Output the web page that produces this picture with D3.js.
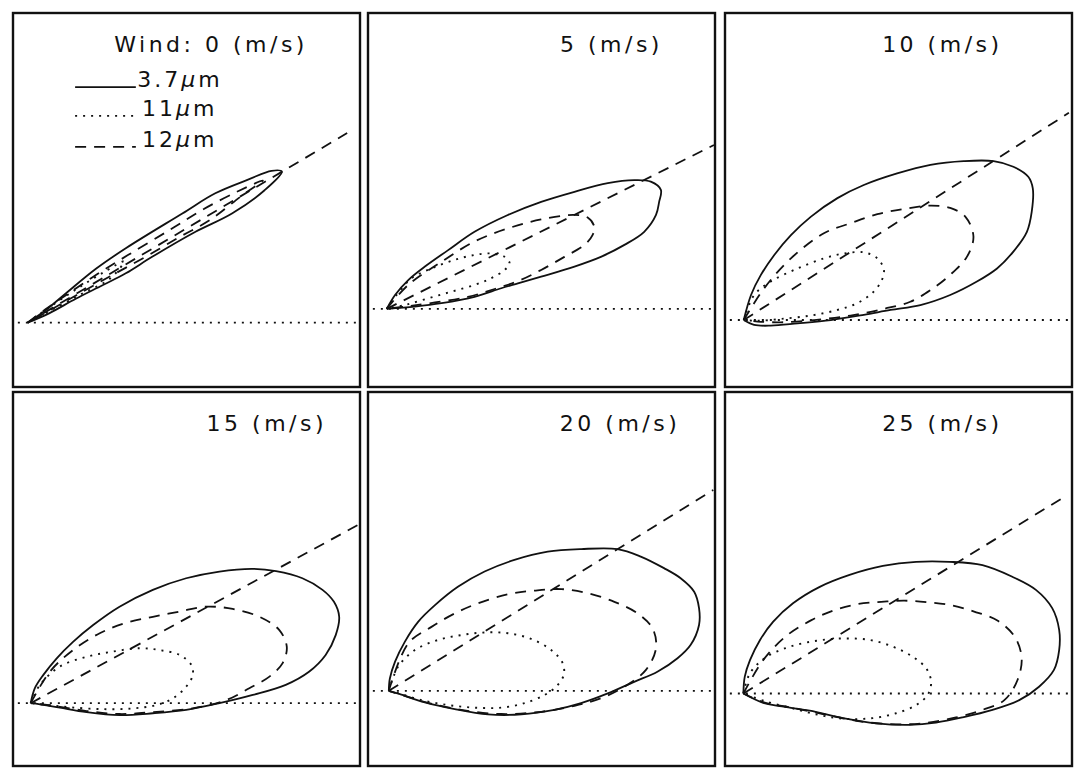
<!DOCTYPE html>
<html>
<head>
<meta charset="utf-8">
<script src="https://cdn.jsdelivr.net/npm/d3@7/dist/d3.min.js"></script>
<style>
    html, body { margin: 0; padding: 0; background: #fff; }
    svg { display: block; }
    text { font-family: 'DejaVu Sans', sans-serif; fill: #111; }
</style>
</head>
<body>
<div id="chart"></div>
<script>
// wind speed of each panel (m/s)
var windSpeeds = [ 0, 5, 10, 15, 20, 25 ];
var channels = [ '3.7', '11', '12' ];

// panel units: x 0..100 left->right, y 0..100 bottom->top
// source point of each glint pattern (also the horizon level)
var sourcePoints = [ [4.2,17.2], [5.4,20.9], [5.4,17.9], [5.1,16.8], [6.0,20.1], [5.3,19.4] ];
// far end of the straight dashed direction line
var rayEnds = [ [96.3,67.9], [99.7,64.7], [99.1,73.3], [99.7,64.6], [99.5,73.8], [97.0,71.5] ];

// 3.7um contour, one ring per panel (starts and ends at the source point)
var contour37 = [
    [[9.5,20.6],[15.2,25.0],[23.9,31.6],[32.5,37.1],[48.8,46.4],[58.3,51.8],[67.9,55.5],[74.5,57.8],[77.5,57.6],[72.5,52.6],[63.1,46.4],[52.6,41.5],[40.1,34.8],[32.5,30.4],[25.8,27.2],[18.1,23.6],[10.4,19.7]],
    [[7.8,24.6],[11.6,28.6],[16.4,32.2],[23.1,36.6],[30.7,41.5],[40.3,46.0],[49.9,49.5],[59.5,52.2],[69.1,54.5],[76.7,55.3],[81.5,54.9],[84.4,52.7],[83.9,49.5],[83.0,46.0],[79.6,41.5],[73.9,38.0],[67.1,34.8],[59.5,32.2],[49.9,29.5],[43.2,27.7],[38.4,26.4],[30.7,24.1],[21.2,22.4],[13.5,21.5]],
    [[7.5,24.6],[10.3,29.9],[14.2,35.3],[19.0,40.6],[24.7,45.5],[32.4,50.5],[40.0,54.0],[49.6,57.1],[59.2,59.4],[68.8,60.4],[77.4,60.4],[83.1,58.9],[87.4,56.2],[88.7,53.1],[88.4,46.9],[87.0,41.5],[83.1,36.2],[78.4,31.7],[72.6,28.2],[64.9,24.6],[56.3,21.9],[47.7,20.6],[40.0,19.3],[30.5,17.9],[20.9,17.0],[13.2,16.4],[8.4,16.6]],
    [[6.3,20.8],[8.7,24.3],[12.6,28.8],[17.3,33.2],[23.1,37.7],[30.7,42.6],[40.3,47.1],[49.9,50.2],[59.5,52.0],[69.1,52.7],[75.8,52.1],[83.4,50.2],[89.2,47.1],[92.5,43.9],[94.0,39.9],[93.0,35.0],[90.1,29.7],[85.3,25.2],[78.6,21.7],[69.1,19.0],[59.5,16.8],[49.9,15.0],[40.3,14.1],[30.7,13.6],[21.2,14.4],[13.5,15.6],[7.8,16.5]],
    [[6.3,23.4],[7.8,27.9],[10.6,33.2],[14.5,38.6],[19.3,43.0],[25.9,47.9],[33.6,52.0],[42.2,55.1],[51.8,57.3],[61.4,58.0],[71.9,58.0],[78.6,56.0],[85.3,52.9],[90.1,50.2],[94.0,46.6],[95.4,42.2],[95.4,37.7],[93.0,32.4],[89.2,28.8],[83.4,25.2],[76.7,22.5],[69.1,19.4],[61.4,16.8],[53.7,15.0],[44.2,13.8],[34.6,13.8],[25.0,15.2],[16.4,17.0],[9.2,19.2]],
    [[5.7,23.9],[7.2,28.3],[10.1,33.7],[13.9,38.6],[19.6,43.5],[27.3,47.9],[35.9,51.1],[45.5,53.5],[55.1,54.6],[64.7,54.6],[74.2,53.7],[82.8,50.6],[89.6,47.1],[94.3,42.2],[96.3,36.4],[96.3,31.0],[94.8,25.7],[90.5,21.2],[84.8,17.6],[77.1,15.0],[68.5,13.0],[60.8,11.6],[53.2,11.0],[43.6,11.4],[34.0,12.8],[24.4,14.8],[15.8,16.0],[11.0,16.9]]
];

// 11um contour
var contour11 = [
    [[10,21],[18,26.0],[26,30.6],[32,33.6],[28,29],[20,25],[12,21]],
    [[7.8,24.1],[12.6,29.1],[18.3,31.7],[25.0,34.0],[30.7,35.3],[35.5,35.7],[39.4,34.8],[40.8,33.1],[39.4,31.3],[35.5,29.1],[30.7,27.3],[24.1,25.5],[17.3,23.7],[10.6,21.9]],
    [[8.4,24.6],[13.2,28.2],[20.9,31.7],[28.5,34.4],[34.3,35.7],[40.0,36.0],[43.9,34.4],[45.8,31.3],[45.0,28.2],[42.4,25.1],[38.1,22.4],[32.4,20.6],[24.7,19.1],[16.1,18.2],[9.4,17.7]],
    [[7.8,21.7],[13.5,26.6],[21.2,29.2],[28.8,30.6],[36.5,31.5],[42.2,31.0],[48.0,29.7],[51.4,27.0],[51.8,24.3],[49.9,21.2],[46.1,18.1],[41.3,16.3],[34.6,15.4],[25.9,15.2],[16.4,15.7],[9.7,16.3]],
    [[8.7,26.6],[13.5,31.0],[20.2,33.7],[26.9,35.0],[33.6,35.7],[40.3,35.5],[47.0,34.0],[52.8,31.0],[56.1,27.5],[56.4,24.3],[54.2,21.2],[50.9,19.0],[45.1,16.8],[38.4,15.6],[30.7,15.6],[23.1,16.3],[15.4,17.6],[9.7,19.2]],
    [[7.2,24.8],[12.0,29.2],[18.7,31.9],[26.4,33.5],[34.0,34.1],[41.7,33.7],[48.4,31.9],[54.1,29.2],[58.0,26.1],[59.4,22.5],[58.4,19.0],[55.1,16.3],[49.3,14.1],[42.6,12.8],[35.0,12.6],[27.3,13.6],[19.6,15.4],[12.0,17.2]]
];

// 12um contour
var contour12 = [
    [[10,21.2],[16,25.0],[24,30.0],[33,35.2],[45,41.9],[55,47.6],[65,52.4],[72,55.2],[66,51.2],[57,44.8],[48,40.1],[38,34.7],[28,29.6],[18,24.4],[10,20.2]],
    [[11.6,27.3],[21.2,33.5],[30.7,38.9],[40.3,42.4],[49.9,44.8],[59.5,46.0],[63.3,45.3],[65.2,42.9],[64.7,40.6],[62.4,38.0],[56.6,34.8],[49.9,31.3],[43.2,28.3],[36.5,26.2],[28.8,24.1],[19.3,22.6],[11.6,21.6]],
    [[11.3,26.4],[19.0,34.4],[28.5,41.1],[36.2,43.8],[43.9,46.2],[51.5,47.6],[59.2,48.5],[64.9,47.9],[69.3,45.5],[71.6,40.2],[69.7,34.8],[64.9,30.0],[59.2,25.9],[53.4,22.8],[45.8,20.9],[36.2,19.1],[25.7,17.9],[16.1,17.3],[9.4,17.5]],
    [[10.6,25.2],[17.3,31.0],[25.0,35.5],[32.7,38.3],[40.3,39.9],[48.0,41.3],[55.7,42.6],[63.3,42.0],[71.0,39.9],[76.7,36.4],[78.9,31.9],[77.7,27.5],[73.9,23.9],[68.1,20.8],[61.4,17.6],[51.8,15.4],[40.3,14.4],[30.7,13.9],[21.2,14.7],[11.6,16.1]],
    [[11.6,32.8],[18.3,37.2],[25.0,40.8],[31.7,43.5],[40.3,45.9],[48.0,46.9],[55.7,47.3],[63.3,46.2],[71.0,43.9],[77.7,40.8],[82.0,36.8],[83.0,31.5],[80.1,25.7],[73.9,21.2],[67.1,18.1],[59.5,16.1],[49.9,14.5],[38.4,13.9],[26.9,15.0],[17.3,16.9],[9.7,19.0]],
    [[11.0,28.3],[17.7,34.8],[24.9,39.0],[31.6,41.7],[38.3,43.3],[45.0,43.9],[51.7,44.2],[58.4,43.8],[65.1,43.0],[71.8,41.3],[78.5,38.9],[83.6,34.4],[85.5,28.8],[84.3,23.0],[80.5,17.6],[74.2,15.0],[66.6,13.0],[57.0,11.4],[47.4,11.2],[37.8,12.1],[28.2,13.9],[18.7,15.7],[11.0,17.1]]
];

(function(){
    'use strict';

    var width = 1081,
        height = 772,
        colLeft = [ 13, 368, 725 ],
        rowTop = [ 13, 392 ],
        panelW = 347,
        panelH = 374,
        ink = '#111',
        // x (panel units) where each title ends
        titleEnd = [ 85, 85, 80, 90.5, 90, 80 ],
        dashes = { solid: null, dotted: '2,6', dashed: '11,8' },
        styleOf = { '3.7': 'solid', '11': 'dotted', '12': 'dashed' },
        contours = { '3.7': contour37, '11': contour11, '12': contour12 };

    var x = d3.scaleLinear().domain( [0, 100] ).range( [0, panelW] ),
        y = d3.scaleLinear().domain( [0, 100] ).range( [panelH, 0] );

    var ring = d3.line()
        .x( function( d ){ return x( d[0] ); } )
        .y( function( d ){ return y( d[1] ); } )
        .curve( d3.curveCatmullRom.alpha( 0.5 ) );

    var straight = d3.line()
        .x( function( d ){ return x( d[0] ); } )
        .y( function( d ){ return y( d[1] ); } );

    var svg = d3.select( '#chart' ).append( 'svg' )
        .attr( 'width', width )
        .attr( 'height', height );

    svg.append( 'rect' )
        .attr( 'width', width )
        .attr( 'height', height )
        .attr( 'fill', '#fff' );

    function styled( sel, kind ){
        return sel.attr( 'fill', 'none' )
            .attr( 'stroke', ink )
            .attr( 'stroke-width', kind === 'dotted' ? 1.9 : 1.8 )
            .attr( 'stroke-linejoin', 'round' )
            .attr( 'stroke-dasharray', dashes[kind] );
    }

    windSpeeds.forEach(function( wind, i ){
        var src = sourcePoints[i],
            $p = svg.append( 'g' )
                .attr( 'transform', 'translate(' + colLeft[i % 3] + ',' + rowTop[Math.floor( i / 3 )] + ')' );

        $p.append( 'rect' )
            .attr( 'width', panelW )
            .attr( 'height', panelH )
            .attr( 'fill', 'none' )
            .attr( 'stroke', ink )
            .attr( 'stroke-width', 2.4 );

        // horizon through the source point
        styled( $p.append( 'path' ), 'dotted' )
            .attr( 'd', straight( [[1.4, src[1]], [99.6, src[1]]] ) );

        // direction line
        styled( $p.append( 'path' ), 'dashed' )
            .attr( 'd', straight( [src, rayEnds[i]] ) );

        channels.forEach(function( ch ){
            var pts = [src].concat( contours[ch][i] ).concat( [src] );
            styled( $p.append( 'path' ), styleOf[ch] )
                .attr( 'd', ring( pts ) );
        });

        $p.append( 'text' )
            .attr( 'x', x( titleEnd[i] ) )
            .attr( 'y', y( 89.7 ) )
            .attr( 'text-anchor', 'end' )
            .attr( 'font-size', 22 )
            .attr( 'letter-spacing', 3.5 )
            .text( ( i === 0 ? 'Wind: ' : '' ) + wind + ' (m/s)' );

        if ( i === 0 ){
            var rowsY = [ 80.2, 72.5, 64.2 ];
            channels.forEach(function( ch, k ){
                styled( $p.append( 'path' ), styleOf[ch] )
                    .attr( 'd', straight( [[17.9, rowsY[k]], [35.4, rowsY[k]]] ) );
                var $t = $p.append( 'text' )
                    .attr( 'x', x( ch === '3.7' ? 35.8 : 37.2 ) )
                    .attr( 'y', y( rowsY[k] ) )
                    .attr( 'font-size', 22 )
                    .attr( 'letter-spacing', 3 );
                $t.append( 'tspan' ).text( ch );
                $t.append( 'tspan' ).attr( 'font-style', 'italic' ).text( '\u03bc' );
                $t.append( 'tspan' ).text( 'm' );
            });
        }
    });
})();
</script>
</body>
</html>
